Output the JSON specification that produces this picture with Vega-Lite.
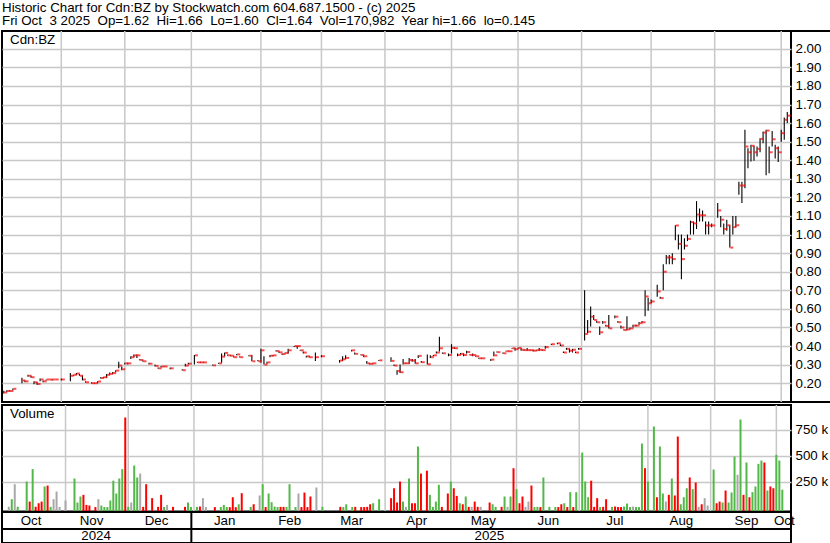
{
"$schema": "https://vega.github.io/schema/vega-lite/v6.json",
"background": "white",
"padding": 0,
"title": {"text": "Historic Chart for Cdn:BZ by Stockwatch.com 604.687.1500 - (c) 2025", "subtitle": "Fri Oct\u00a0 3 2025\u00a0 Op=1.62\u00a0 Hi=1.66\u00a0 Lo=1.60\u00a0 Cl=1.64\u00a0 Vol=170,982\u00a0 Year hi=1.66\u00a0 lo=0.145", "anchor": "start", "frame": "bounds", "offset": 1.7, "subtitlePadding": 0, "dx": 2, "fontSize": 13.33, "subtitleFontSize": 13.33, "fontWeight": "normal", "font": "Liberation Sans", "subtitleFont": "Liberation Sans", "color": "black", "subtitleColor": "black"},
"datasets": {"p": [
{"date":"2024-10-07","high":0.16,"low":0.145,"close":0.15,"volume":6000,"move":"flat"},
{"date":"2024-10-08","high":0.162,"low":0.152,"close":0.158,"volume":79000,"move":"up"},
{"date":"2024-10-09","high":0.162,"low":0.155,"close":0.158,"volume":224000,"move":"flat"},
{"date":"2024-10-10","high":0.172,"low":0.162,"close":0.17,"volume":6000,"move":"up"},
{"date":"2024-10-11"},
{"date":"2024-10-14"},
{"date":"2024-10-15","high":0.23,"low":0.2,"close":0.215,"volume":250000,"move":"up"},
{"date":"2024-10-16","high":0.215,"low":0.205,"close":0.21,"volume":56000,"move":"down"},
{"date":"2024-10-17","high":0.245,"low":0.235,"close":0.24,"volume":370000,"move":"up"},
{"date":"2024-10-18","high":0.24,"low":0.23,"close":0.232,"volume":6000,"move":"down"},
{"date":"2024-10-21","high":0.21,"low":0.195,"close":0.205,"volume":40000,"move":"down"},
{"date":"2024-10-22","high":0.205,"low":0.19,"close":0.196,"volume":56000,"move":"down"},
{"date":"2024-10-23","high":0.225,"low":0.21,"close":0.22,"volume":202000,"move":"up"},
{"date":"2024-10-24","high":0.215,"low":0.205,"close":0.21,"volume":211000,"move":"down"},
{"date":"2024-10-25","high":0.22,"low":0.215,"close":0.22,"volume":5000,"move":"up"},
{"date":"2024-10-28","high":0.22,"low":0.22,"close":0.22,"volume":79000,"move":"flat"},
{"date":"2024-10-29","high":0.22,"low":0.215,"close":0.22,"volume":153000,"move":"flat"},
{"date":"2024-10-30","high":0.22,"low":0.22,"close":0.22,"volume":4000,"move":"flat"},
{"date":"2024-10-31"},
{"date":"2024-11-01","high":0.225,"low":0.215,"close":0.22,"volume":66000,"move":"flat"},
{"date":"2024-11-04"},
{"date":"2024-11-05"},
{"date":"2024-11-06","high":0.255,"low":0.21,"close":0.24,"volume":279000,"move":"up"},
{"date":"2024-11-07","high":0.246,"low":0.24,"close":0.245,"volume":47000,"move":"up"},
{"date":"2024-11-08","high":0.255,"low":0.245,"close":0.252,"volume":105000,"move":"up"},
{"date":"2024-11-11","high":0.25,"low":0.24,"close":0.24,"volume":121000,"move":"down"},
{"date":"2024-11-12","high":0.242,"low":0.215,"close":0.22,"volume":24000,"move":"down"},
{"date":"2024-11-13","high":0.21,"low":0.203,"close":0.205,"volume":18000,"move":"down"},
{"date":"2024-11-14"},
{"date":"2024-11-15","high":0.205,"low":0.198,"close":0.2,"volume":3000,"move":"down"},
{"date":"2024-11-18","high":0.202,"low":0.198,"close":0.2,"volume":79000,"move":"flat"},
{"date":"2024-11-19","high":0.21,"low":0.2,"close":0.209,"volume":18000,"move":"up"},
{"date":"2024-11-20","high":0.232,"low":0.225,"close":0.228,"volume":3000,"move":"up"},
{"date":"2024-11-21","high":0.235,"low":0.228,"close":0.232,"volume":3000,"move":"up"},
{"date":"2024-11-22","high":0.25,"low":0.228,"close":0.245,"volume":66000,"move":"up"},
{"date":"2024-11-25","high":0.258,"low":0.245,"close":0.25,"volume":258000,"move":"up"},
{"date":"2024-11-26","high":0.26,"low":0.25,"close":0.255,"volume":134000,"move":"up"},
{"date":"2024-11-27","high":0.27,"low":0.26,"close":0.268,"volume":279000,"move":"up"},
{"date":"2024-11-28","high":0.315,"low":0.28,"close":0.295,"volume":370000,"move":"up"},
{"date":"2024-11-29","high":0.29,"low":0.27,"close":0.275,"volume":869000,"move":"down"},
{"date":"2024-12-02","high":0.31,"low":0.3,"close":0.307,"volume":5000,"move":"up"},
{"date":"2024-12-03","high":0.31,"low":0.3,"close":0.307,"volume":47000,"move":"flat"},
{"date":"2024-12-04","high":0.345,"low":0.33,"close":0.34,"volume":405000,"move":"up"},
{"date":"2024-12-05","high":0.355,"low":0.34,"close":0.35,"volume":289000,"move":"up"},
{"date":"2024-12-06","high":0.355,"low":0.335,"close":0.35,"volume":327000,"move":"flat"},
{"date":"2024-12-09","high":0.33,"low":0.322,"close":0.325,"volume":5000,"move":"down"},
{"date":"2024-12-10","high":0.322,"low":0.315,"close":0.318,"volume":224000,"move":"down"},
{"date":"2024-12-11"},
{"date":"2024-12-12","high":0.31,"low":0.3,"close":0.305,"volume":89000,"move":"down"},
{"date":"2024-12-13"},
{"date":"2024-12-16","high":0.3,"low":0.29,"close":0.293,"volume":5000,"move":"down"},
{"date":"2024-12-17","high":0.285,"low":0.278,"close":0.28,"volume":121000,"move":"down"},
{"date":"2024-12-18","high":0.292,"low":0.285,"close":0.29,"volume":4000,"move":"up"},
{"date":"2024-12-19","high":0.292,"low":0.288,"close":0.29,"volume":24000,"move":"flat"},
{"date":"2024-12-20"},
{"date":"2024-12-23","high":0.285,"low":0.275,"close":0.28,"volume":5000,"move":"down"},
{"date":"2024-12-24"},
{"date":"2024-12-25"},
{"date":"2024-12-26"},
{"date":"2024-12-27","high":0.275,"low":0.268,"close":0.27,"volume":5000,"move":"down"},
{"date":"2024-12-30","high":0.305,"low":0.29,"close":0.295,"volume":47000,"move":"up"},
{"date":"2024-12-31","high":0.31,"low":0.3,"close":0.305,"volume":3000,"move":"up"},
{"date":"2025-01-01"},
{"date":"2025-01-02","high":0.352,"low":0.3,"close":0.35,"volume":5000,"move":"up"},
{"date":"2025-01-03","high":0.315,"low":0.31,"close":0.312,"volume":8000,"move":"down"},
{"date":"2025-01-06","high":0.315,"low":0.31,"close":0.312,"volume":89000,"move":"flat"},
{"date":"2025-01-07","high":0.315,"low":0.31,"close":0.312,"volume":3000,"move":"flat"},
{"date":"2025-01-08"},
{"date":"2025-01-09"},
{"date":"2025-01-10","high":0.3,"low":0.295,"close":0.296,"volume":3000,"move":"down"},
{"date":"2025-01-13"},
{"date":"2025-01-14","high":0.31,"low":0.305,"close":0.307,"volume":3000,"move":"up"},
{"date":"2025-01-15","high":0.36,"low":0.31,"close":0.343,"volume":24000,"move":"up"},
{"date":"2025-01-16","high":0.365,"low":0.345,"close":0.363,"volume":3000,"move":"up"},
{"date":"2025-01-17","high":0.355,"low":0.348,"close":0.35,"volume":2000,"move":"down"},
{"date":"2025-01-20","high":0.35,"low":0.345,"close":0.348,"volume":98000,"move":"down"},
{"date":"2025-01-21","high":0.345,"low":0.338,"close":0.34,"volume":2000,"move":"down"},
{"date":"2025-01-22","high":0.357,"low":0.35,"close":0.355,"volume":30000,"move":"up"},
{"date":"2025-01-23","high":0.345,"low":0.338,"close":0.34,"volume":137000,"move":"down"},
{"date":"2025-01-24"},
{"date":"2025-01-27"},
{"date":"2025-01-28","high":0.35,"low":0.345,"close":0.348,"volume":5000,"move":"up"},
{"date":"2025-01-29","high":0.35,"low":0.318,"close":0.318,"volume":30000,"move":"down"},
{"date":"2025-01-30"},
{"date":"2025-01-31","high":0.325,"low":0.318,"close":0.318,"volume":115000,"move":"flat"},
{"date":"2025-02-03","high":0.385,"low":0.31,"close":0.377,"volume":224000,"move":"up"},
{"date":"2025-02-04","high":0.345,"low":0.3,"close":0.3,"volume":3000,"move":"down"},
{"date":"2025-02-05","high":0.315,"low":0.305,"close":0.312,"volume":134000,"move":"up"},
{"date":"2025-02-06","high":0.352,"low":0.34,"close":0.348,"volume":50000,"move":"up"},
{"date":"2025-02-07","high":0.352,"low":0.345,"close":0.35,"volume":8000,"move":"up"},
{"date":"2025-02-10","high":0.378,"low":0.37,"close":0.373,"volume":3000,"move":"up"},
{"date":"2025-02-11","high":0.37,"low":0.362,"close":0.366,"volume":5000,"move":"down"},
{"date":"2025-02-12","high":0.36,"low":0.352,"close":0.357,"volume":5000,"move":"down"},
{"date":"2025-02-13","high":0.365,"low":0.36,"close":0.363,"volume":5000,"move":"up"},
{"date":"2025-02-14","high":0.385,"low":0.36,"close":0.377,"volume":224000,"move":"up"},
{"date":"2025-02-17"},
{"date":"2025-02-18","high":0.4,"low":0.395,"close":0.4,"volume":3000,"move":"up"},
{"date":"2025-02-19","high":0.4,"low":0.385,"close":0.4,"volume":134000,"move":"flat"},
{"date":"2025-02-20","high":0.38,"low":0.375,"close":0.377,"volume":3000,"move":"down"},
{"date":"2025-02-21","high":0.37,"low":0.36,"close":0.365,"volume":143000,"move":"down"},
{"date":"2025-02-24","high":0.348,"low":0.338,"close":0.345,"volume":3000,"move":"down"},
{"date":"2025-02-25","high":0.345,"low":0.338,"close":0.34,"volume":105000,"move":"down"},
{"date":"2025-02-26"},
{"date":"2025-02-27","high":0.365,"low":0.32,"close":0.34,"volume":192000,"move":"flat"},
{"date":"2025-02-28"},
{"date":"2025-03-03","high":0.35,"low":0.34,"close":0.345,"volume":5000,"move":"up"},
{"date":"2025-03-04"},
{"date":"2025-03-05"},
{"date":"2025-03-06"},
{"date":"2025-03-07"},
{"date":"2025-03-10"},
{"date":"2025-03-11","high":0.325,"low":0.31,"close":0.322,"volume":5000,"move":"down"},
{"date":"2025-03-12","high":0.345,"low":0.32,"close":0.329,"volume":3000,"move":"up"},
{"date":"2025-03-13","high":0.35,"low":0.33,"close":0.336,"volume":30000,"move":"up"},
{"date":"2025-03-14"},
{"date":"2025-03-17","high":0.38,"low":0.37,"close":0.377,"volume":3000,"move":"up"},
{"date":"2025-03-18","high":0.365,"low":0.355,"close":0.358,"volume":5000,"move":"down"},
{"date":"2025-03-19"},
{"date":"2025-03-20","high":0.355,"low":0.35,"close":0.352,"volume":3000,"move":"down"},
{"date":"2025-03-21","high":0.35,"low":0.34,"close":0.345,"volume":3000,"move":"down"},
{"date":"2025-03-24","high":0.32,"low":0.305,"close":0.307,"volume":5000,"move":"down"},
{"date":"2025-03-25","high":0.307,"low":0.3,"close":0.304,"volume":30000,"move":"down"},
{"date":"2025-03-26","high":0.31,"low":0.305,"close":0.307,"volume":40000,"move":"up"},
{"date":"2025-03-27"},
{"date":"2025-03-28","high":0.325,"low":0.32,"close":0.323,"volume":79000,"move":"up"},
{"date":"2025-03-31"},
{"date":"2025-04-01"},
{"date":"2025-04-02"},
{"date":"2025-04-03","high":0.34,"low":0.315,"close":0.32,"volume":89000,"move":"down"},
{"date":"2025-04-04","high":0.3,"low":0.292,"close":0.295,"volume":185000,"move":"down"},
{"date":"2025-04-07","high":0.27,"low":0.245,"close":0.266,"volume":47000,"move":"down"},
{"date":"2025-04-08","high":0.3,"low":0.255,"close":0.259,"volume":250000,"move":"down"},
{"date":"2025-04-09","high":0.33,"low":0.3,"close":0.307,"volume":56000,"move":"up"},
{"date":"2025-04-10","high":0.31,"low":0.305,"close":0.307,"volume":5000,"move":"flat"},
{"date":"2025-04-11","high":0.335,"low":0.305,"close":0.325,"volume":279000,"move":"up"},
{"date":"2025-04-14","high":0.33,"low":0.315,"close":0.322,"volume":40000,"move":"down"},
{"date":"2025-04-15","high":0.33,"low":0.305,"close":0.307,"volume":40000,"move":"down"},
{"date":"2025-04-16","high":0.35,"low":0.335,"close":0.347,"volume":589000,"move":"up"},
{"date":"2025-04-17","high":0.32,"low":0.31,"close":0.313,"volume":327000,"move":"down"},
{"date":"2025-04-18"},
{"date":"2025-04-21","high":0.355,"low":0.3,"close":0.302,"volume":355000,"move":"down"},
{"date":"2025-04-22","high":0.35,"low":0.335,"close":0.34,"volume":121000,"move":"up"},
{"date":"2025-04-23","high":0.352,"low":0.345,"close":0.35,"volume":5000,"move":"up"},
{"date":"2025-04-24","high":0.37,"low":0.36,"close":0.365,"volume":56000,"move":"up"},
{"date":"2025-04-25","high":0.45,"low":0.37,"close":0.388,"volume":218000,"move":"up"},
{"date":"2025-04-28","high":0.365,"low":0.358,"close":0.361,"volume":5000,"move":"down"},
{"date":"2025-04-29"},
{"date":"2025-04-30","high":0.36,"low":0.345,"close":0.352,"volume":134000,"move":"down"},
{"date":"2025-05-01","high":0.41,"low":0.36,"close":0.39,"volume":250000,"move":"up"},
{"date":"2025-05-02","high":0.392,"low":0.385,"close":0.388,"volume":185000,"move":"down"},
{"date":"2025-05-05","high":0.36,"low":0.345,"close":0.352,"volume":111000,"move":"down"},
{"date":"2025-05-06","high":0.362,"low":0.355,"close":0.358,"volume":40000,"move":"up"},
{"date":"2025-05-07","high":0.36,"low":0.345,"close":0.352,"volume":30000,"move":"down"},
{"date":"2025-05-08","high":0.375,"low":0.36,"close":0.368,"volume":105000,"move":"up"},
{"date":"2025-05-09","high":0.355,"low":0.35,"close":0.352,"volume":5000,"move":"down"},
{"date":"2025-05-12","high":0.36,"low":0.345,"close":0.352,"volume":5000,"move":"flat"},
{"date":"2025-05-13","high":0.348,"low":0.342,"close":0.345,"volume":56000,"move":"down"},
{"date":"2025-05-14","high":0.337,"low":0.332,"close":0.334,"volume":5000,"move":"down"},
{"date":"2025-05-15","high":0.337,"low":0.332,"close":0.334,"volume":5000,"move":"flat"},
{"date":"2025-05-16"},
{"date":"2025-05-19"},
{"date":"2025-05-20","high":0.33,"low":0.32,"close":0.327,"volume":47000,"move":"down"},
{"date":"2025-05-21","high":0.37,"low":0.345,"close":0.35,"volume":30000,"move":"up"},
{"date":"2025-05-22","high":0.37,"low":0.365,"close":0.367,"volume":5000,"move":"up"},
{"date":"2025-05-23"},
{"date":"2025-05-26","high":0.365,"low":0.358,"close":0.361,"volume":5000,"move":"down"},
{"date":"2025-05-27","high":0.375,"low":0.37,"close":0.372,"volume":105000,"move":"up"},
{"date":"2025-05-28","high":0.375,"low":0.37,"close":0.372,"volume":5000,"move":"flat"},
{"date":"2025-05-29","high":0.39,"low":0.385,"close":0.388,"volume":105000,"move":"up"},
{"date":"2025-05-30","high":0.39,"low":0.375,"close":0.383,"volume":379000,"move":"down"},
{"date":"2025-06-02","high":0.392,"low":0.385,"close":0.39,"volume":176000,"move":"up"},
{"date":"2025-06-03","high":0.39,"low":0.375,"close":0.38,"volume":40000,"move":"down"},
{"date":"2025-06-04","high":0.382,"low":0.375,"close":0.378,"volume":105000,"move":"down"},
{"date":"2025-06-05","high":0.39,"low":0.375,"close":0.378,"volume":5000,"move":"flat"},
{"date":"2025-06-06","high":0.38,"low":0.375,"close":0.378,"volume":56000,"move":"flat"},
{"date":"2025-06-09","high":0.38,"low":0.37,"close":0.375,"volume":211000,"move":"down"},
{"date":"2025-06-10","high":0.38,"low":0.375,"close":0.378,"volume":3000,"move":"up"},
{"date":"2025-06-11","high":0.39,"low":0.375,"close":0.38,"volume":5000,"move":"up"},
{"date":"2025-06-12","high":0.382,"low":0.375,"close":0.378,"volume":3000,"move":"down"},
{"date":"2025-06-13","high":0.4,"low":0.385,"close":0.394,"volume":289000,"move":"up"},
{"date":"2025-06-16"},
{"date":"2025-06-17","high":0.412,"low":0.405,"close":0.41,"volume":5000,"move":"up"},
{"date":"2025-06-18"},
{"date":"2025-06-19","high":0.418,"low":0.41,"close":0.415,"volume":3000,"move":"up"},
{"date":"2025-06-20","high":0.41,"low":0.4,"close":0.403,"volume":3000,"move":"down"},
{"date":"2025-06-23","high":0.37,"low":0.362,"close":0.365,"volume":30000,"move":"down"},
{"date":"2025-06-24","high":0.39,"low":0.38,"close":0.385,"volume":40000,"move":"up"},
{"date":"2025-06-25","high":0.385,"low":0.365,"close":0.375,"volume":3000,"move":"down"},
{"date":"2025-06-26","high":0.385,"low":0.365,"close":0.38,"volume":147000,"move":"up"},
{"date":"2025-06-27","high":0.37,"low":0.362,"close":0.365,"volume":3000,"move":"down"},
{"date":"2025-06-30","high":0.39,"low":0.38,"close":0.385,"volume":147000,"move":"up"},
{"date":"2025-07-01"},
{"date":"2025-07-02","high":0.7,"low":0.43,"close":0.465,"volume":530000,"move":"up"},
{"date":"2025-07-03","high":0.54,"low":0.47,"close":0.477,"volume":250000,"move":"up"},
{"date":"2025-07-04","high":0.613,"low":0.505,"close":0.558,"volume":98000,"move":"up"},
{"date":"2025-07-07","high":0.567,"low":0.54,"close":0.54,"volume":258000,"move":"down"},
{"date":"2025-07-08","high":0.535,"low":0.525,"close":0.528,"volume":5000,"move":"down"},
{"date":"2025-07-09","high":0.505,"low":0.46,"close":0.474,"volume":89000,"move":"down"},
{"date":"2025-07-10","high":0.535,"low":0.52,"close":0.528,"volume":3000,"move":"up"},
{"date":"2025-07-11","high":0.515,"low":0.505,"close":0.508,"volume":5000,"move":"down"},
{"date":"2025-07-14","high":0.567,"low":0.495,"close":0.495,"volume":79000,"move":"down"},
{"date":"2025-07-15"},
{"date":"2025-07-16","high":0.565,"low":0.55,"close":0.558,"volume":5000,"move":"up"},
{"date":"2025-07-17","high":0.535,"low":0.525,"close":0.528,"volume":8000,"move":"down"},
{"date":"2025-07-18","high":0.51,"low":0.495,"close":0.5,"volume":3000,"move":"down"},
{"date":"2025-07-21","high":0.49,"low":0.483,"close":0.486,"volume":3000,"move":"down"},
{"date":"2025-07-22","high":0.56,"low":0.486,"close":0.49,"volume":8000,"move":"up"},
{"date":"2025-07-23","high":0.5,"low":0.49,"close":0.495,"volume":37000,"move":"up"},
{"date":"2025-07-24","high":0.515,"low":0.5,"close":0.51,"volume":3000,"move":"up"},
{"date":"2025-07-25","high":0.515,"low":0.505,"close":0.51,"volume":8000,"move":"flat"},
{"date":"2025-07-28","high":0.53,"low":0.515,"close":0.523,"volume":3000,"move":"up"},
{"date":"2025-07-29","high":0.535,"low":0.525,"close":0.528,"volume":3000,"move":"up"},
{"date":"2025-07-30","high":0.7,"low":0.56,"close":0.667,"volume":617000,"move":"up"},
{"date":"2025-07-31","high":0.66,"low":0.59,"close":0.63,"volume":379000,"move":"down"},
{"date":"2025-08-01","high":0.65,"low":0.63,"close":0.64,"volume":250000,"move":"up"},
{"date":"2025-08-04"},
{"date":"2025-08-05","high":0.73,"low":0.665,"close":0.694,"volume":782000,"move":"up"},
{"date":"2025-08-06","high":0.665,"low":0.655,"close":0.658,"volume":98000,"move":"down"},
{"date":"2025-08-07","high":0.84,"low":0.7,"close":0.8,"volume":589000,"move":"up"},
{"date":"2025-08-08","high":0.89,"low":0.84,"close":0.877,"volume":134000,"move":"up"},
{"date":"2025-08-11","high":0.89,"low":0.84,"close":0.877,"volume":56000,"move":"flat"},
{"date":"2025-08-12","high":0.9,"low":0.84,"close":0.868,"volume":121000,"move":"down"},
{"date":"2025-08-13","high":1.05,"low":0.97,"close":1.049,"volume":279000,"move":"up"},
{"date":"2025-08-14","high":1.0,"low":0.92,"close":0.95,"volume":115000,"move":"down"},
{"date":"2025-08-15","high":1.0,"low":0.76,"close":0.868,"volume":685000,"move":"down"},
{"date":"2025-08-18","high":0.98,"low":0.92,"close":0.94,"volume":30000,"move":"up"},
{"date":"2025-08-19","high":1.0,"low":0.965,"close":0.977,"volume":98000,"move":"up"},
{"date":"2025-08-20","high":1.075,"low":1.0,"close":1.067,"volume":185000,"move":"up"},
{"date":"2025-08-21","high":1.07,"low":1.0,"close":1.06,"volume":289000,"move":"down"},
{"date":"2025-08-22","high":1.18,"low":1.03,"close":1.108,"volume":176000,"move":"up"},
{"date":"2025-08-25","high":1.14,"low":1.07,"close":1.104,"volume":240000,"move":"down"},
{"date":"2025-08-26","high":1.13,"low":1.07,"close":1.104,"volume":5000,"move":"flat"},
{"date":"2025-08-27","high":1.07,"low":1.0,"close":1.049,"volume":30000,"move":"down"},
{"date":"2025-08-28","high":1.07,"low":1.0,"close":1.049,"volume":89000,"move":"flat"},
{"date":"2025-08-29","high":1.06,"low":1.04,"close":1.049,"volume":18000,"move":"flat"},
{"date":"2025-09-01"},
{"date":"2025-09-02","high":1.17,"low":1.09,"close":1.13,"volume":366000,"move":"up"},
{"date":"2025-09-03","high":1.1,"low":1.04,"close":1.08,"volume":40000,"move":"down"},
{"date":"2025-09-04","high":1.06,"low":1.0,"close":1.03,"volume":56000,"move":"down"},
{"date":"2025-09-05","high":1.08,"low":1.02,"close":1.05,"volume":47000,"move":"up"},
{"date":"2025-09-08","high":1.05,"low":0.93,"close":0.93,"volume":163000,"move":"down"},
{"date":"2025-09-09","high":1.1,"low":1.0,"close":1.04,"volume":47000,"move":"up"},
{"date":"2025-09-10","high":1.1,"low":1.04,"close":1.05,"volume":144000,"move":"up"},
{"date":"2025-09-11","high":1.285,"low":1.214,"close":1.264,"volume":492000,"move":"up"},
{"date":"2025-09-12","high":1.285,"low":1.17,"close":1.264,"volume":315000,"move":"flat"},
{"date":"2025-09-15","high":1.564,"low":1.25,"close":1.474,"volume":850000,"move":"up"},
{"date":"2025-09-16","high":1.465,"low":1.357,"close":1.443,"volume":121000,"move":"down"},
{"date":"2025-09-17","high":1.483,"low":1.393,"close":1.478,"volume":434000,"move":"up"},
{"date":"2025-09-18","high":1.478,"low":1.397,"close":1.443,"volume":98000,"move":"down"},
{"date":"2025-09-19","high":1.474,"low":1.42,"close":1.461,"volume":147000,"move":"up"},
{"date":"2025-09-22","high":1.519,"low":1.443,"close":1.515,"volume":202000,"move":"up"},
{"date":"2025-09-23","high":1.555,"low":1.492,"close":1.549,"volume":421000,"move":"up"},
{"date":"2025-09-24","high":1.564,"low":1.32,"close":1.56,"volume":453000,"move":"up"},
{"date":"2025-09-25","high":1.474,"low":1.33,"close":1.443,"volume":434000,"move":"down"},
{"date":"2025-09-26","high":1.558,"low":1.474,"close":1.513,"volume":163000,"move":"up"},
{"date":"2025-09-29","high":1.483,"low":1.41,"close":1.465,"volume":202000,"move":"down"},
{"date":"2025-09-30","high":1.474,"low":1.39,"close":1.443,"volume":185000,"move":"down"},
{"date":"2025-10-01","high":1.564,"low":1.5,"close":1.546,"volume":508000,"move":"up"},
{"date":"2025-10-02","high":1.63,"low":1.51,"close":1.618,"volume":453000,"move":"up"},
{"date":"2025-10-03","high":1.66,"low":1.6,"close":1.64,"volume":170982,"move":"up"}
]},
"data": {"name": "p"},
"transform": [{"window": [{"op": "row_number", "as": "i"}], "sort": [{"field": "date", "order": "ascending"}]}],
"spacing": 3,
"bounds": "flush",
"vconcat": [
 {
  "width": 789, "height": 371,
  "title": {"text": "Cdn:BZ", "anchor": "start", "offset": -27, "dx": 8, "fontSize": 13.33, "fontWeight": "normal", "font": "Liberation Sans", "color": "black", "baseline": "alphabetic"},
  "layer": [
   {"transform": [{"timeUnit": "utcyearmonth", "field": "date", "as": "ym"}, {"aggregate": [{"op": "min", "field": "i", "as": "mi"}], "groupby": ["ym"]}, {"filter": "datum.mi > 1"}],
    "mark": {"type": "rule", "color": "#c8c8c8", "strokeWidth": 1.5},
    "encoding": {"x": {"field": "mi", "type": "quantitative", "scale": {"domain": [0.405, 261.23], "nice": false, "zero": false}, "axis": null}}},
   {"mark": {"type": "rule", "color": "black", "strokeWidth": 1.1},
    "encoding": {"x": {"field": "i", "type": "quantitative"},
     "y": {"field": "low", "type": "quantitative", "scale": {"domain": [0.0988, 2.0958], "nice": false, "zero": false},
       "axis": {"orient": "right", "title": null, "values": [0.2,0.3,0.4,0.5,0.6,0.7,0.8,0.9,1.0,1.1,1.2,1.3,1.4,1.5,1.6,1.7,1.8,1.9,2.0], "format": ".2f", "grid": true, "labelOverlap": false}},
     "y2": {"field": "high"}}},
   {"mark": {"type": "tick", "orient": "horizontal", "color": "#ff0000", "size": 3, "thickness": 2, "xOffset": 2},
    "encoding": {"x": {"field": "i", "type": "quantitative"},
     "y": {"field": "close", "type": "quantitative",
       "axis": {"orient": "right", "title": null, "values": [0.2,0.3,0.4,0.5,0.6,0.7,0.8,0.9,1.0,1.1,1.2,1.3,1.4,1.5,1.6,1.7,1.8,1.9,2.0], "format": ".2f", "grid": true, "labelOverlap": false}}}},
   {"mark": {"type": "rule", "color": "black", "strokeWidth": 2},
    "encoding": {"x": {"datum": 261.23}, "x2": {"datum": 274.8},
     "y": {"datum": 2.0958, "type": "quantitative",
       "axis": {"orient": "right", "title": null, "values": [0.2,0.3,0.4,0.5,0.6,0.7,0.8,0.9,1.0,1.1,1.2,1.3,1.4,1.5,1.6,1.7,1.8,1.9,2.0], "format": ".2f", "grid": true, "labelOverlap": false}}}},
   {"mark": {"type": "rule", "color": "black", "strokeWidth": 2},
    "encoding": {"x": {"datum": 261.23}, "x2": {"datum": 274.8},
     "y": {"datum": 0.0988, "type": "quantitative",
       "axis": {"orient": "right", "title": null, "values": [0.2,0.3,0.4,0.5,0.6,0.7,0.8,0.9,1.0,1.1,1.2,1.3,1.4,1.5,1.6,1.7,1.8,1.9,2.0], "format": ".2f", "grid": true, "labelOverlap": false}}}}
  ]
 },
 {
  "spacing": 0,
  "bounds": "flush",
  "vconcat": [
   {
    "width": 789, "height": 106.5,
    "title": {"text": "Volume", "anchor": "start", "offset": -27, "dx": 8, "fontSize": 13.33, "fontWeight": "normal", "font": "Liberation Sans", "color": "black", "baseline": "alphabetic"},
    "layer": [
     {"transform": [{"timeUnit": "utcyearmonth", "field": "date", "as": "ym"}, {"aggregate": [{"op": "min", "field": "i", "as": "mi"}], "groupby": ["ym"]}, {"filter": "datum.mi > 1"}],
      "mark": {"type": "rule", "color": "#c8c8c8", "strokeWidth": 1.5},
      "encoding": {"x": {"field": "mi", "type": "quantitative", "scale": {"domain": [0.405, 261.23], "nice": false, "zero": false}, "axis": null}}},
     {"mark": {"type": "bar", "size": 2},
      "encoding": {"x": {"field": "i", "type": "quantitative"},
       "y": {"field": "volume", "type": "quantitative", "scale": {"domain": [-40000, 990000], "nice": false, "zero": false},
         "axis": {"orient": "right", "title": null, "values": [250000, 500000, 750000], "labelExpr": "format(datum.value / 1000, 'd') + ' k'", "grid": true, "labelOverlap": false}},
       "y2": {"datum": -40000},
       "color": {"field": "move", "type": "nominal", "scale": {"domain": ["up", "down", "flat"], "range": ["#52b848", "#ff0000", "#a8a8a8"]}, "legend": null}}}
    ]
   },
   {
    "width": 789, "height": 31,
    "layer": [
     {"mark": {"type": "rule", "color": "black", "strokeWidth": 2},
      "encoding": {"y": {"datum": 0.9, "type": "quantitative", "scale": {"domain": [0, 2], "nice": false, "zero": false}, "axis": null}}},
     {"transform": [{"timeUnit": "utcyear", "field": "date", "as": "yr"}, {"aggregate": [{"op": "min", "field": "i", "as": "mi"}], "groupby": ["yr"]}, {"filter": "datum.mi > 1"}],
      "mark": {"type": "rule", "color": "black", "strokeWidth": 2},
      "encoding": {"x": {"field": "mi", "type": "quantitative", "scale": {"domain": [0.405, 261.23], "nice": false, "zero": false}, "axis": null}}},
     {"mark": {"type": "text", "fontSize": 13.33, "font": "Liberation Sans", "color": "black", "baseline": "middle"},
      "encoding": {"x": {"aggregate": "mean", "field": "i", "type": "quantitative"}, "y": {"datum": 1.45, "type": "quantitative", "axis": null},
       "text": {"field": "date", "timeUnit": "utcyearmonth", "type": "temporal", "format": "%b"}}},
     {"mark": {"type": "text", "fontSize": 13.33, "font": "Liberation Sans", "color": "black", "baseline": "middle"},
      "encoding": {"x": {"aggregate": "mean", "field": "i", "type": "quantitative"}, "y": {"datum": 0.42, "type": "quantitative", "axis": null},
       "text": {"field": "date", "timeUnit": "utcyear", "type": "temporal", "format": "%Y"}}}
    ]
   }
  ]
 }
],
"config": {
 "view": {"stroke": "black", "strokeWidth": 2},
 "font": "Liberation Sans",
 "axis": {"labelFont": "Liberation Sans", "labelFontSize": 13.33, "labelColor": "black", "gridColor": "#c8c8c8", "gridWidth": 1.5, "ticks": false, "domain": false, "labelPadding": 4}
}
}
